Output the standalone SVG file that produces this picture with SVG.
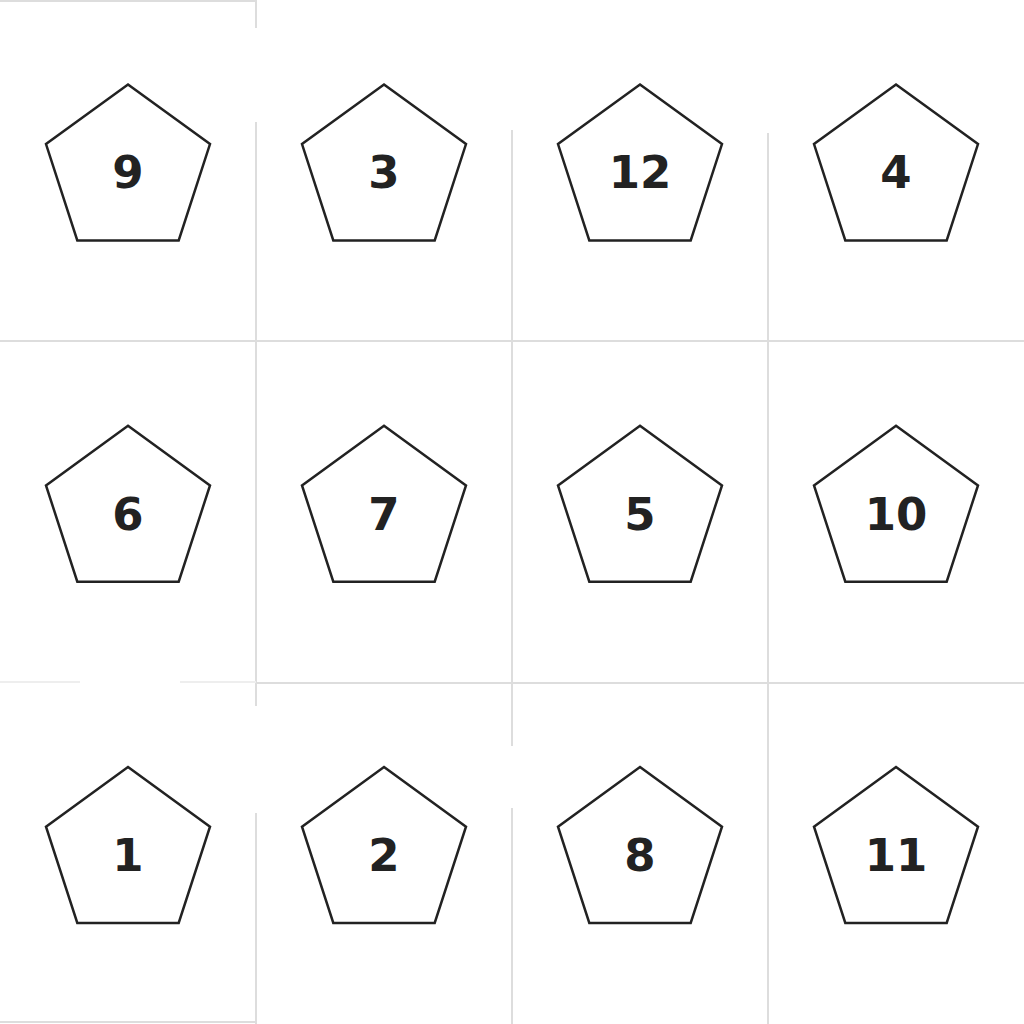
<svg xmlns="http://www.w3.org/2000/svg" width="1024" height="1024" viewBox="0 0 1024 1024">
<style>
.grid{stroke:#dddddd;stroke-width:2;fill:none}
.faint{stroke:#eeeeee;stroke-width:2;fill:none}
.pent{fill:#ffffff;stroke:#222222;stroke-width:2.5;stroke-linejoin:miter}
.lbl{font-family:"DejaVu Sans",sans-serif;font-weight:bold;font-size:45px;fill:#222222;text-anchor:middle}
</style>
<defs>
<polygon id="pg" points="0,-86.2 82,-26.6 50.7,69.7 -50.7,69.7 -82,-26.6"/>
</defs>
<rect width="1024" height="1024" fill="#ffffff"/>
<g id="grid">
<line class="grid" x1="0" y1="1" x2="256" y2="1"/>
<line class="grid" x1="0" y1="1022" x2="256" y2="1022"/>
<line class="grid" x1="256" y1="0" x2="256" y2="28"/>
<line class="grid" x1="256" y1="122" x2="256" y2="706"/>
<line class="grid" x1="256" y1="813" x2="256" y2="1024"/>
<line class="grid" x1="512" y1="130" x2="512" y2="746"/>
<line class="grid" x1="512" y1="808" x2="512" y2="1024"/>
<line class="grid" x1="768" y1="133" x2="768" y2="1024"/>
<line class="grid" x1="0" y1="341" x2="1024" y2="341"/>
<line class="faint" x1="0" y1="682" x2="80" y2="682"/>
<line class="faint" x1="180" y1="682" x2="256" y2="682"/>
<line class="grid" x1="256" y1="683" x2="1024" y2="683"/>
</g>
<g id="node-9"><use href="#pg" class="pent" x="128" y="170.7"/><text class="lbl" x="128" y="188">9</text></g>
<g id="node-3"><use href="#pg" class="pent" x="384" y="170.7"/><text class="lbl" x="384" y="188">3</text></g>
<g id="node-12"><use href="#pg" class="pent" x="640" y="170.7"/><text class="lbl" x="640" y="188">12</text></g>
<g id="node-4"><use href="#pg" class="pent" x="896" y="170.7"/><text class="lbl" x="896" y="188">4</text></g>
<g id="node-6"><use href="#pg" class="pent" x="128" y="512"/><text class="lbl" x="128" y="529.5">6</text></g>
<g id="node-7"><use href="#pg" class="pent" x="384" y="512"/><text class="lbl" x="384" y="529.5">7</text></g>
<g id="node-5"><use href="#pg" class="pent" x="640" y="512"/><text class="lbl" x="640" y="529.5">5</text></g>
<g id="node-10"><use href="#pg" class="pent" x="896" y="512"/><text class="lbl" x="896" y="529.5">10</text></g>
<g id="node-1"><use href="#pg" class="pent" x="128" y="853.3"/><text class="lbl" x="128" y="870.8">1</text></g>
<g id="node-2"><use href="#pg" class="pent" x="384" y="853.3"/><text class="lbl" x="384" y="870.8">2</text></g>
<g id="node-8"><use href="#pg" class="pent" x="640" y="853.3"/><text class="lbl" x="640" y="870.8">8</text></g>
<g id="node-11"><use href="#pg" class="pent" x="896" y="853.3"/><text class="lbl" x="896" y="870.8">11</text></g>
</svg>
